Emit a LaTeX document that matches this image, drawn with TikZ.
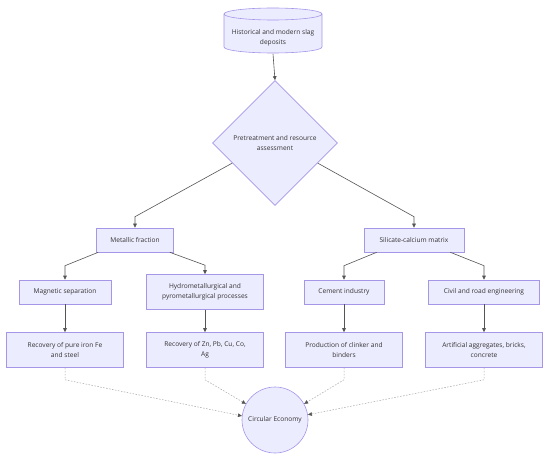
\documentclass[tikz,border=0pt]{standalone}
\usepackage{fontspec}
\setmainfont{Open Sans}
\usetikzlibrary{shapes.geometric,arrows.meta,calc}
\definecolor{boxfill}{HTML}{ECECFF}
\definecolor{boxline}{HTML}{A596E8}
\definecolor{edgecol}{HTML}{555555}
\definecolor{txtcol}{HTML}{333333}
\tikzset{
  box/.style={draw=boxline,fill=boxfill,line width=0.6pt,align=center,inner sep=0pt,font=\fontsize{6.6}{10.5}\selectfont,text=txtcol},
  edge/.style={draw=edgecol,line width=0.6pt,-{Triangle[length=4pt,width=3.6pt]}},
  dotedge/.style={draw=gray!70,line width=0.5pt,dash pattern=on 1.5pt off 1.5pt,-{Triangle[length=4pt,width=3.6pt,color=edgecol,fill=edgecol,sharp]}},
}
\begin{document}
\begin{tikzpicture}[x=1pt,y=-1pt]
\useasboundingbox[fill=white] (0,0) rectangle (550,460);
% cylinder
\filldraw[draw=boxline,fill=boxfill,line width=0.6pt]
  (224,14) -- (224,47) arc[start angle=180,end angle=360,x radius=49pt,y radius=6pt]
  -- (322,14) arc[start angle=0,end angle=180,x radius=49pt,y radius=6pt] -- cycle;
\draw[draw=boxline,line width=0.6pt] (224,14) arc[start angle=180,end angle=360,x radius=49pt,y radius=6pt];
\node[box,draw=none,fill=none,minimum width=98pt,minimum height=45pt] (src) at (273,31) {};
\node[box,draw=none,fill=none] (srct) at (273,38) {Historical and modern slag\\deposits};
% diamond
\node[box,diamond,aspect=1,minimum width=125pt,minimum height=125pt] (dia) at (275,143) {Pretreatment and resource\\assessment};
% level 1
\node[box,minimum width=77pt,minimum height=24pt] (met) at (135,240) {Metallic fraction};
\node[box,minimum width=100pt,minimum height=24pt] (sil) at (414,240) {Silicate-calcium matrix};
% level 2
\node[box,minimum width=92pt,minimum height=24pt] (mag) at (65,292) {Magnetic separation};
\node[box,minimum width=117pt,minimum height=35pt] (hyd) at (205,292) {Hydrometallurgical and\\pyrometallurgical processes};
\node[box,minimum width=80pt,minimum height=24pt] (cem) at (344,292) {Cement industry};
\node[box,minimum width=111pt,minimum height=24pt] (civ) at (484,292) {Civil and road engineering};
% level 3
\node[box,minimum width=117pt,minimum height=35pt] (fe) at (65,350) {Recovery of pure iron Fe\\and steel};
\node[box,minimum width=117pt,minimum height=35pt] (zn) at (205,350) {Recovery of Zn, Pb, Cu, Co,\\Ag};
\node[box,minimum width=117pt,minimum height=35pt] (cl) at (344,350) {Production of clinker and\\binders};
\node[box,minimum width=117pt,minimum height=35pt] (ag) at (484,350) {Artificial aggregates, bricks,\\concrete};
% circle
\node[box,circle,minimum size=66pt] (ce) at (275,420) {Circular Economy};
% edges
\draw[edge] (src.south) -- (dia.north);
\draw[edge] ($(dia.west)!0.32!(dia.south)$) -- ($(met.north)+(0,-11)$) -- (met.north);
\draw[edge] ($(dia.east)!0.32!(dia.south)$) -- ($(sil.north)+(0,-11)$) -- (sil.north);
\draw[edge] ($(met.south west)+(2,0)$) -- ($(mag.north)+(0,-14)$) -- (mag.north);
\draw[edge] ($(met.south east)+(-4,0)$) -- ($(hyd.north)+(0,-9)$) -- (hyd.north);
\draw[edge] ($(sil.south west)+(13,0)$) -- ($(cem.north)+(0,-14)$) -- (cem.north);
\draw[edge] ($(sil.south east)+(-14,0)$) -- ($(civ.north)+(0,-14)$) -- (civ.north);
\draw[edge] (mag.south) -- (fe.north);
\draw[edge] (hyd.south) -- (zn.north);
\draw[edge] (cem.south) -- (cl.north);
\draw[edge] (civ.south) -- (ag.north);
\draw[dotedge] (fe.south) -- ++(0,12) -- (ce.173);
\draw[dotedge] (zn.south) -- ++(0,12) -- (ce.151);
\draw[dotedge] (cl.south) -- ++(0,12) -- (ce.29);
\draw[dotedge] (ag.south) -- ++(0,12) -- (ce.9);
\end{tikzpicture}
\end{document}
